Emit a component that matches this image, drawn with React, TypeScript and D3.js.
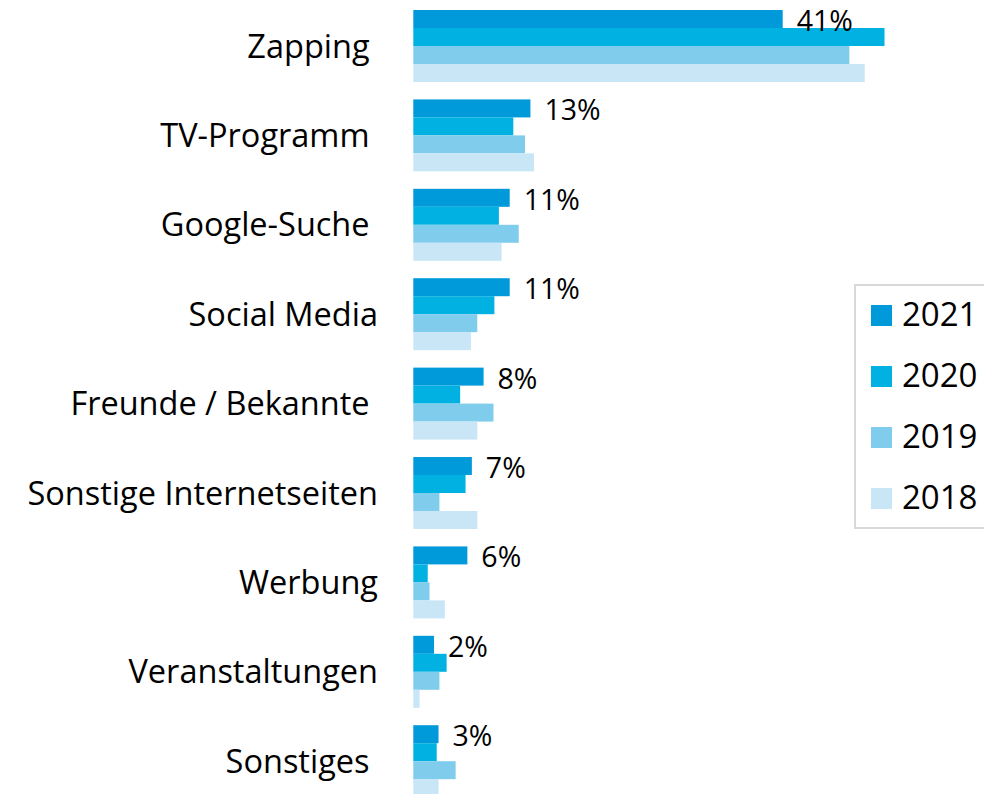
import React from 'react';
import { scaleBand, scaleLinear } from 'd3';

// categories, with the trailing blanks the original labels carry
const categories = [
  'Zapping ',
  'TV-Programm ',
  'Google-Suche ',
  'Social Media',
  'Freunde / Bekannte ',
  'Sonstige Internetseiten',
  'Werbung',
  'Veranstaltungen',
  'Sonstiges ',
];
const years = ['2021', '2020', '2019', '2018'];

const values2021 = [41, 13, 10.7, 10.7, 7.8, 6.5, 6.0, 2.3, 2.8];
const values2020 = [52.3, 11.1, 9.5, 9.0, 5.2, 5.8, 1.6, 3.7, 2.6];
const values2019 = [48.4, 12.4, 11.7, 7.1, 8.9, 2.9, 1.8, 2.9, 4.7];
const values2018 = [50.1, 13.4, 9.8, 6.4, 7.1, 7.1, 3.5, 0.7, 2.8];
const labels2021 = ['41%', '13%', '11%', '11%', '8%', '7%', '6%', '2%', '3%'];

const colors = ['#0099D9', '#00B1E1', '#80CCEC', '#C8E6F6'];

const App = () => {
  const width = 984;
  const height = 794;
  const series = [values2021, values2020, values2019, values2018];
  const font = '"Open Sans", Lato, sans-serif';

  const y = scaleBand<string>()
    .domain(categories)
    .range([1.3, 1.3 + 9 * 89.4])
    .paddingInner(0.195)
    .paddingOuter(0.0975);

  const yInner = scaleBand<string>()
    .domain(years)
    .range([0, y.bandwidth()]);

  const x = scaleLinear().domain([0, 41]).range([413.3, 782.7]);

  return (
    <div style={{ position: 'absolute', left: 0, top: 0 }}>
      <svg width={width} height={height} style={{ display: 'block' }}>
        <rect width={width} height={height} fill="#fff" />
        {categories.map((c, i) => {
          const gy = y(c) as number;
          return (
            <g key={c}>
              <text
                x={378}
                y={gy + y.bandwidth() / 2 + 11.5}
                textAnchor="end"
                fontFamily={font}
                fontSize={32.5}
                fill="#000"
                style={{ whiteSpace: 'pre' }}
              >
                {c}
              </text>
              {years.map((yr, j) => (
                <rect
                  key={yr}
                  x={x(0)}
                  y={gy + (yInner(yr) as number)}
                  width={x(series[j][i]) - x(0)}
                  height={yInner.bandwidth()}
                  fill={colors[j]}
                />
              ))}
              <text
                x={x(values2021[i]) + 14}
                y={gy + yInner.bandwidth() / 2 + 12}
                fontFamily={font}
                fontSize={28.5}
                fill="#000"
              >
                {labels2021[i]}
              </text>
            </g>
          );
        })}
        <rect x={855} y={285} width={140} height={243} fill="#fff" stroke="#D9D9D9" strokeWidth={2} />
        {years.map((yr, j) => (
          <g key={yr} transform={`translate(871,${305 + j * 61})`}>
            <rect width={21} height={21} fill={colors[j]} />
            <text x={31} y={21} fontFamily={font} fontSize={33} fill="#000">
              {yr}
            </text>
          </g>
        ))}
      </svg>
    </div>
  );
};

export default App;
